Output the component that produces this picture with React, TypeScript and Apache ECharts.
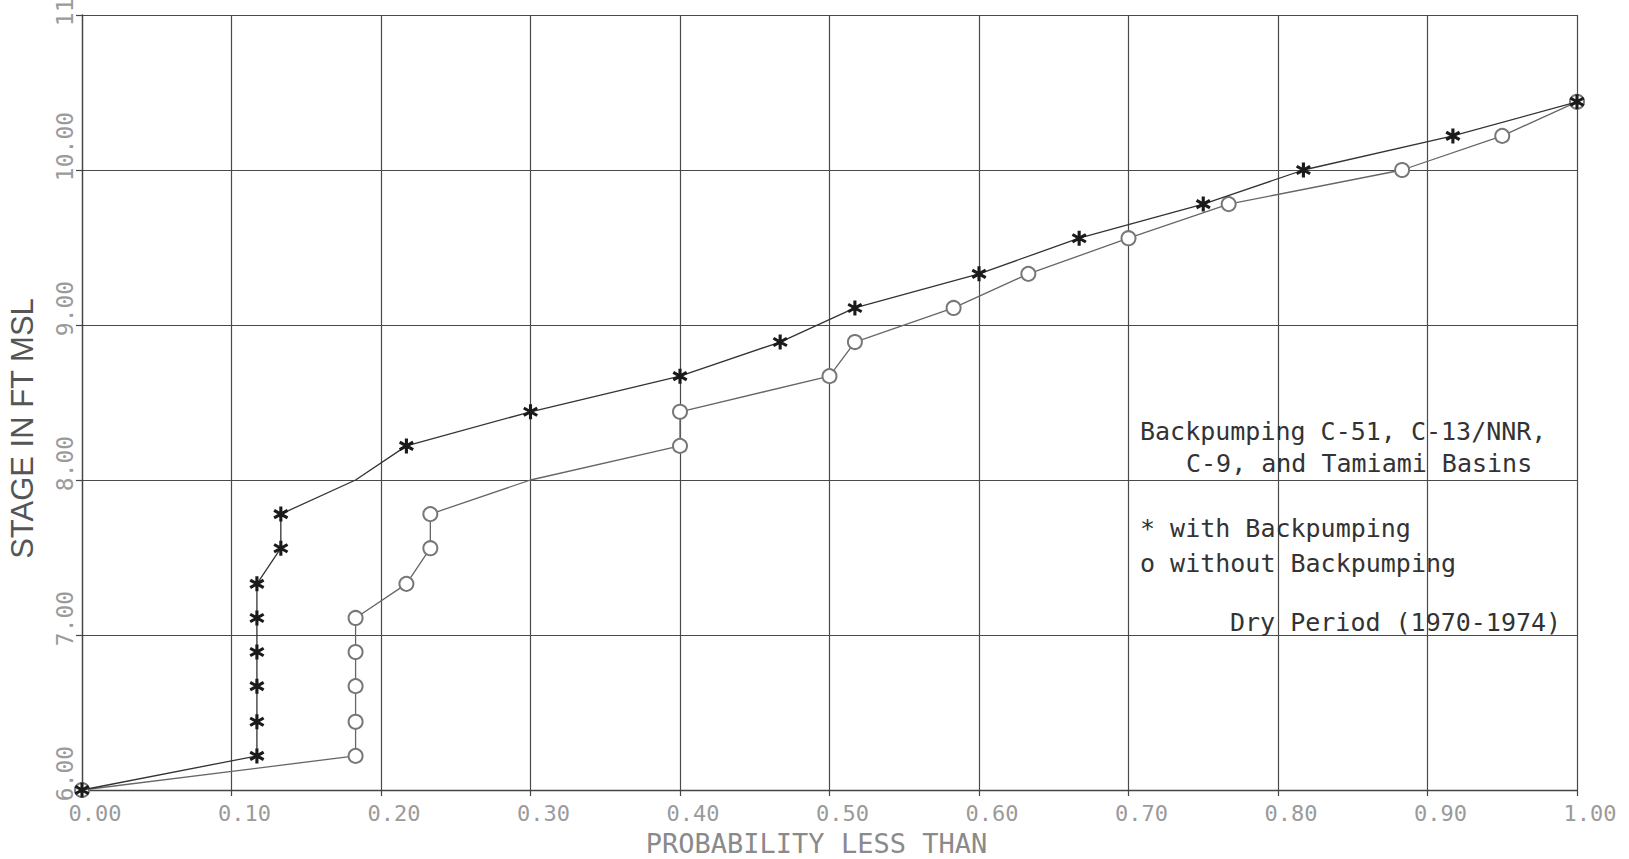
import React, { useEffect, useRef } from "react";
import * as echarts from "echarts";

// Stage levels (ft MSL) shared by both curves
const stageLevels = [
  6.0, 6.22, 6.44, 6.67, 6.89, 7.11, 7.33, 7.56, 7.78, 8.0, 8.22, 8.44, 8.67,
  8.89, 9.11, 9.33, 9.56, 9.78, 10.0, 10.22, 10.44,
];
// Probability less than, with backpumping (*)
const withBackpumpingProb = [
  0.0, 0.117, 0.117, 0.117, 0.117, 0.117, 0.117, 0.133, 0.133, 0.183, 0.217,
  0.3, 0.4, 0.467, 0.517, 0.6, 0.667, 0.75, 0.817, 0.917, 1.0,
];
// Probability less than, without backpumping (o)
const withoutBackpumpingProb = [
  0.0, 0.183, 0.183, 0.183, 0.183, 0.183, 0.217, 0.233, 0.233, 0.3, 0.4, 0.4,
  0.5, 0.517, 0.583, 0.633, 0.7, 0.767, 0.883, 0.95, 1.0,
];
// points whose marker is not visible in the original (hidden at grid crossings)
const faintWith = [9];
const faintWithout = [9];

const xTickLabels = ["0.00", "0.10", "0.20", "0.30", "0.40", "0.50", "0.60", "0.70", "0.80", "0.90", "1.00"];
const yTickLabels = ["6.00", "7.00", "8.00", "9.00", "10.00", "11.00"];

const annotationLines = [
  "Backpumping C-51, C-13/NNR,",
  "C-9, and Tamiami Basins",
  "* with Backpumping",
  "o without Backpumping",
  "Dry Period (1970-1974)",
];

const STAR =
  "path://M8,0 H12 V20 H8 Z M19.66,6.73 L2.34,16.73 L0.34,13.27 L17.66,3.27 Z M0.34,6.73 L2.34,3.27 L19.66,13.27 L17.66,16.73 Z";

export default function App() {
  const ref = useRef<HTMLDivElement>(null);

  useEffect(() => {
    if (!ref.current) return;
    const chart = echarts.init(ref.current, undefined, { renderer: "svg" });

    const withData = withBackpumpingProb.map((p, i) => {
      const item: any = { value: [p, stageLevels[i]] };
      if (faintWith.includes(i)) item.symbolSize = 0;
      return item;
    });
    const withoutData = withoutBackpumpingProb.map((p, i) => {
      const item: any = { value: [p, stageLevels[i]] };
      if (faintWithout.includes(i)) item.symbolSize = 0;
      return item;
    });

    const tickFont = {
      fontFamily: "DejaVu Sans Mono",
      fontSize: 23,
      color: "#9a9a9a",
    };
    const annoFont = 'normal 25px "DejaVu Sans Mono"';
    const annoPos = [
      [1140, 431],
      [1186, 463],
      [1140, 528],
      [1140, 563],
      [1230, 622],
    ];

    chart.setOption({
      animation: false,
      backgroundColor: "#ffffff",
      grid: {
        left: 82,
        right: 52,
        top: 15,
        bottom: 69,
        containLabel: false,
        outerBoundsMode: "none",
      },
      xAxis: {
        type: "value",
        min: 0,
        max: 1,
        interval: 0.1,
        name: "PROBABILITY LESS THAN",
        nameLocation: "middle",
        nameGap: 40,
        nameMoveOverlap: false,
        nameTextStyle: {
          fontFamily: "DejaVu Sans Mono",
          fontSize: 27,
          lineHeight: 26,
          color: "#8a8a8a",
          padding: [0, 26, 0, 0],
        },
        axisLine: { show: true, onZero: false, lineStyle: { color: "#444", width: 1.3 } },
        axisTick: { show: true, length: 6, lineStyle: { color: "#444", width: 1.2 } },
        splitLine: { show: true, lineStyle: { color: "#4a4a4a", width: 1.2 } },
        axisLabel: {
          ...tickFont,
          fontSize: 22,
          lineHeight: 20,
          margin: 13,
          align: "center",
          padding: [0, 0, 0, 26],
          formatter: (v: number) => xTickLabels[Math.round(v * 10)] ?? "",
        },
      },
      yAxis: {
        type: "value",
        min: 6,
        max: 11,
        interval: 1,
        name: "STAGE IN FT MSL",
        nameLocation: "middle",
        nameGap: 44,
        nameRotate: 90,
        nameTextStyle: {
          fontFamily: "Liberation Sans",
          fontSize: 31,
          color: "#555",
          padding: [0, 52, 0, 0],
        },
        axisLine: { show: true, onZero: false, lineStyle: { color: "#444", width: 1.3 } },
        axisTick: { show: true, length: 6, lineStyle: { color: "#444", width: 1.2 } },
        splitLine: { show: true, lineStyle: { color: "#4a4a4a", width: 1.2 } },
        axisLabel: {
          ...tickFont,
          rotate: 90,
          margin: 6,
          align: "center",
          verticalAlign: "bottom",
          formatter: (v: number) => {
            const t = yTickLabels[Math.round(v - 6)] ?? "";
            return t.length > 4 ? `{l|${t}}` : `{s|${t}}`;
          },
          rich: {
            s: { ...tickFont, padding: [0, 0, 0, 33] },
            l: { ...tickFont, padding: [0, 0, 0, 47] },
          },
        },
      },
      series: [
        {
          name: "without Backpumping",
          type: "line",
          data: withoutData,
          symbol: "emptyCircle",
          symbolSize: 14,
          showAllSymbol: true,
          lineStyle: { color: "#666", width: 1.3 },
          itemStyle: { color: "#777", borderWidth: 1.5 },
          z: 3,
        },
        {
          name: "with Backpumping",
          type: "line",
          data: withData,
          symbol: STAR,
          symbolSize: 15,
          showAllSymbol: true,
          lineStyle: { color: "#333", width: 1.3 },
          itemStyle: { color: "#1a1a1a" },
          z: 4,
        },
      ],
      graphic: annotationLines.map((t, i) => ({
        type: "text",
        x: annoPos[i][0],
        y: annoPos[i][1],
        z: 1,
        style: {
          text: t,
          font: annoFont,
          fill: "#333",
          verticalAlign: "middle",
          align: "left",
        },
      })),
    });

    return () => chart.dispose();
  }, []);

  return (
    <div
      ref={ref}
      style={{ position: "fixed", left: 0, top: 0, width: 1629, height: 859, background: "#fff" }}
    />
  );
}
